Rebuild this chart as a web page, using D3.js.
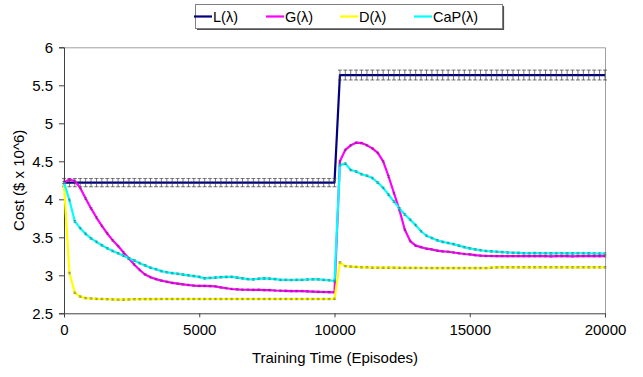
<!DOCTYPE html>
<html>
<head>
<meta charset="utf-8">
<script src="https://cdn.jsdelivr.net/npm/d3@7"></script>
<style>
  html, body { margin: 0; padding: 0; background: #fff; }
  svg { display: block; font-family: "Liberation Sans", Arial, sans-serif; }
</style>
</head>
<body>
<svg id="chart" width="643" height="377"></svg>
<script>
// Training episodes sampled every 200 episodes (0 .. 20000)
const episodes = d3.range(0, 20001, 200);

const seriesNames = ["L(\u03bb)", "G(\u03bb)", "D(\u03bb)", "CaP(\u03bb)"];
const seriesColors = ["#000080", "#ff00ff", "#ffff00", "#00ffff"];

const yTicks = [2.5, 3, 3.5, 4, 4.5, 5, 5.5, 6];
const xTicks = [0, 5000, 10000, 15000, 20000];

// Cost values ($ x 10^6) per series, one per sampled episode
const costL = [
  4.22, 4.22, 4.22, 4.22, 4.22, 4.22, 4.22, 4.22, 4.22, 4.22,
  4.22, 4.22, 4.22, 4.22, 4.22, 4.22, 4.22, 4.22, 4.22, 4.22,
  4.22, 4.22, 4.22, 4.22, 4.22, 4.22, 4.22, 4.22, 4.22, 4.22,
  4.22, 4.22, 4.22, 4.22, 4.22, 4.22, 4.22, 4.22, 4.22, 4.22,
  4.22, 4.22, 4.22, 4.22, 4.22, 4.22, 4.22, 4.22, 4.22, 4.22,
  4.22,
  5.635, 5.635, 5.635, 5.635, 5.635, 5.635, 5.635, 5.635, 5.635, 5.635,
  5.635, 5.635, 5.635, 5.635, 5.635, 5.635, 5.635, 5.635, 5.635, 5.635,
  5.635, 5.635, 5.635, 5.635, 5.635, 5.635, 5.635, 5.635, 5.635, 5.635,
  5.635, 5.635, 5.635, 5.635, 5.635, 5.635, 5.635, 5.635, 5.635, 5.635,
  5.635, 5.635, 5.635, 5.635, 5.635, 5.635, 5.635, 5.635, 5.635, 5.635
];

const costG = [
  4.22, 4.26, 4.24, 4.15, 4.01, 3.88, 3.76, 3.65, 3.55, 3.46,
  3.385, 3.30, 3.22, 3.14, 3.07, 3.01, 2.975, 2.95, 2.93, 2.915,
  2.90, 2.89, 2.88, 2.872, 2.865, 2.86, 2.86, 2.858, 2.855, 2.84,
  2.83, 2.82, 2.815, 2.81, 2.81, 2.808, 2.81, 2.806, 2.805, 2.80,
  2.797, 2.795, 2.793, 2.793, 2.792, 2.788, 2.785, 2.783, 2.78, 2.778,
  2.776,
  4.50, 4.65, 4.71, 4.745, 4.74, 4.71, 4.67, 4.61, 4.50, 4.30,
  4.08, 3.86, 3.60, 3.45, 3.39, 3.37, 3.35, 3.34, 3.325, 3.315,
  3.31, 3.30, 3.29, 3.28, 3.275, 3.265, 3.258, 3.255, 3.254, 3.253,
  3.253, 3.252, 3.252, 3.253, 3.252, 3.251, 3.252, 3.252, 3.251, 3.250,
  3.251, 3.252, 3.251, 3.250, 3.251, 3.252, 3.253, 3.252, 3.251, 3.252
];

const costD = [
  4.20, 3.03, 2.77, 2.72, 2.70, 2.695, 2.69, 2.688, 2.685, 2.682,
  2.68, 2.68, 2.682, 2.685, 2.686, 2.687, 2.687, 2.687, 2.688, 2.688,
  2.688, 2.688, 2.688, 2.688, 2.688, 2.688, 2.688, 2.688, 2.688, 2.688,
  2.688, 2.688, 2.688, 2.688, 2.688, 2.688, 2.688, 2.688, 2.688, 2.688,
  2.688, 2.688, 2.688, 2.688, 2.688, 2.688, 2.688, 2.688, 2.688, 2.688,
  2.69,
  3.17, 3.12, 3.115, 3.11, 3.105, 3.105, 3.10, 3.10, 3.10, 3.10,
  3.10, 3.098, 3.098, 3.097, 3.097, 3.096, 3.096, 3.095, 3.095, 3.095,
  3.095, 3.095, 3.095, 3.095, 3.095, 3.095, 3.095, 3.095, 3.10, 3.103,
  3.105, 3.105, 3.105, 3.105, 3.105, 3.105, 3.105, 3.105, 3.105, 3.105,
  3.105, 3.105, 3.105, 3.105, 3.105, 3.105, 3.105, 3.105, 3.105, 3.105
];

const costCaP = [
  4.22, 3.99, 3.71, 3.62, 3.545, 3.485, 3.44, 3.395, 3.355, 3.32,
  3.29, 3.258, 3.225, 3.195, 3.16, 3.13, 3.10, 3.08, 3.055, 3.04,
  3.028, 3.02, 3.01, 3.00, 2.99, 2.98, 2.96, 2.965, 2.97, 2.975,
  2.978, 2.98, 2.97, 2.96, 2.95, 2.947, 2.955, 2.96, 2.955, 2.95,
  2.94, 2.94, 2.938, 2.94, 2.94, 2.945, 2.948, 2.947, 2.94, 2.935,
  2.925,
  4.45, 4.47, 4.385, 4.365, 4.33, 4.31, 4.28, 4.22, 4.15, 4.06,
  3.97, 3.88, 3.80, 3.73, 3.66, 3.58, 3.52, 3.49, 3.46, 3.44,
  3.425, 3.41, 3.39, 3.37, 3.355, 3.34, 3.33, 3.32, 3.315, 3.31,
  3.305, 3.30, 3.297, 3.295, 3.29, 3.29, 3.292, 3.29, 3.29, 3.288,
  3.29, 3.29, 3.288, 3.288, 3.29, 3.29, 3.288, 3.287, 3.286, 3.285
];

// Error bar half-widths before and after the shift at 10000 episodes
const errL = [0.055, 0.065];
const errG = [0.012, 0.012];
const errD = [0.01, 0.01];
const errCaP = [0.012, 0.012];

const allCosts = [costL, costG, costD, costCaP];
const allErrs = [errL, errG, errD, errCaP];

const svg = d3.select("#chart");
const plot = { left: 64, right: 605, top: 47.3, bottom: 313.3 };

const x = d3.scaleLinear().domain([0, 20000]).range([plot.left, plot.right]);
const y = d3.scaleLinear().domain([2.5, 6]).range([plot.bottom, plot.top]);

// plot-area border (top and right)
svg.append("path")
  .attr("d", `M${plot.left},${plot.top + 0.5}H${plot.right + 0.5}V${plot.bottom}`)
  .attr("fill", "none")
  .attr("stroke", "#a0a0a0")
  .attr("stroke-width", 1);

// axes
const yAxis = d3.axisLeft(y).tickValues(yTicks).tickSize(5).tickPadding(6)
  .tickFormat(d3.format("~g"));
const xAxis = d3.axisBottom(x).tickValues(xTicks).tickSize(4).tickPadding(7)
  .tickFormat(d3.format("d"));

const gy = svg.append("g").attr("transform", `translate(${plot.left},0)`).call(yAxis);
const gx = svg.append("g").attr("transform", `translate(0,${plot.bottom})`).call(xAxis);
[gx, gy].forEach(g => {
  g.selectAll("path.domain").attr("stroke", "#404040");
  g.selectAll(".tick line").attr("stroke", "#404040");
  g.selectAll(".tick text").attr("fill", "#000").attr("font-size", 15)
    .attr("font-family", "'Liberation Sans', Arial, sans-serif");
});

// axis titles
svg.append("text")
  .attr("x", 335).attr("y", 363)
  .attr("text-anchor", "middle")
  .attr("font-size", 15)
  .text("Training Time (Episodes)");
svg.append("text")
  .attr("transform", `translate(24,${(plot.top + plot.bottom) / 2}) rotate(-90)`)
  .attr("text-anchor", "middle")
  .attr("font-size", 15)
  .text("Cost ($ x 10^6)");

// series: line then error bars
const line = d3.line().x((d, i) => x(episodes[i])).y(d => y(d));

allCosts.forEach((vals, s) => {
  const g = svg.append("g");
  g.append("path")
    .datum(vals)
    .attr("d", line)
    .attr("fill", "none")
    .attr("stroke", seriesColors[s])
    .attr("stroke-width", 2.2)
    .attr("stroke-linejoin", "round");

  const errs = allErrs[s];
  const big = s === 0;
  const barOpacity = big ? 0.85 : 0.45;
  const capHalf = big ? 2 : 1.6;
  const bars = g.selectAll("g.err").data(vals).join("g").attr("class", "err");
  const e = (i) => errs[episodes[i] <= 10000 ? 0 : 1];
  bars.append("line")
    .attr("x1", (d, i) => x(episodes[i])).attr("x2", (d, i) => x(episodes[i]))
    .attr("y1", (d, i) => y(d + e(i))).attr("y2", (d, i) => y(d - e(i)))
    .attr("stroke", "#333").attr("stroke-width", 0.8).attr("opacity", barOpacity);
  [1, -1].forEach(sign => {
    bars.append("line")
      .attr("x1", (d, i) => x(episodes[i]) - capHalf).attr("x2", (d, i) => x(episodes[i]) + capHalf)
      .attr("y1", (d, i) => y(d + sign * e(i))).attr("y2", (d, i) => y(d + sign * e(i)))
      .attr("stroke", "#333").attr("stroke-width", 0.8).attr("opacity", barOpacity);
  });
});

// legend
const legend = svg.append("g");
legend.append("rect")
  .attr("x", 195.5).attr("y", 4.5).attr("width", 307).attr("height", 24)
  .attr("fill", "none").attr("stroke", "#808080").attr("stroke-width", 1);
legend.append("path")
  .attr("d", "M503.5,6V29.5H197")
  .attr("fill", "none").attr("stroke", "#505050").attr("stroke-width", 1.2);
const legendX = [194, 266, 340, 414];
seriesNames.forEach((name, s) => {
  legend.append("line")
    .attr("x1", legendX[s]).attr("x2", legendX[s] + 18)
    .attr("y1", 16.5).attr("y2", 16.5)
    .attr("stroke", seriesColors[s]).attr("stroke-width", 2.2);
  legend.append("text")
    .attr("x", legendX[s] + 19).attr("y", 21.5)
    .attr("font-size", 14.5)
    .text(name);
});
</script>
</body>
</html>
